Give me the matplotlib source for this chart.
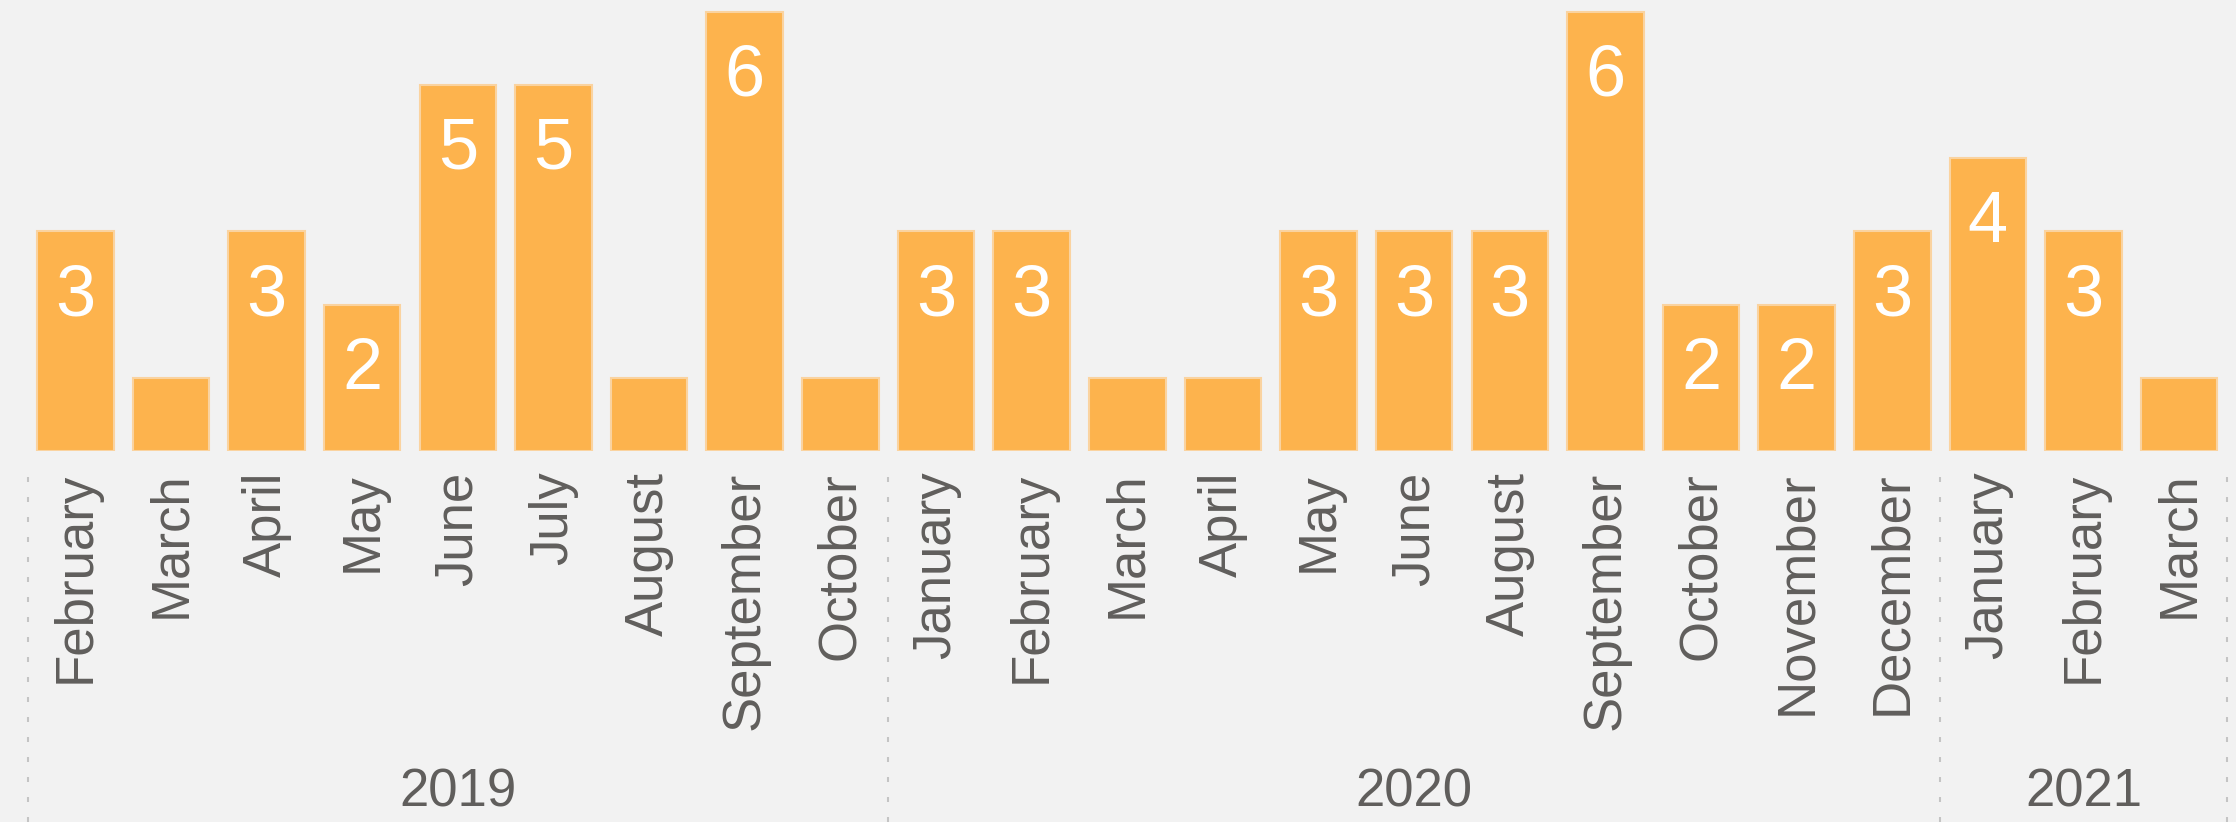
import matplotlib.pyplot as plt
from matplotlib.lines import Line2D
from matplotlib.transforms import blended_transform_factory

# data
months = ['February', 'March', 'April', 'May', 'June', 'July', 'August', 'September', 'October',
          'January', 'February', 'March', 'April', 'May', 'June', 'August', 'September',
          'October', 'November', 'December',
          'January', 'February', 'March']
counts = [3, 1, 3, 2, 5, 5, 1, 6, 1,
          3, 3, 1, 1, 3, 3, 3, 6, 2, 2, 3,
          4, 3, 1]
years = ['2019', '2020', '2021']
months_per_year = [9, 11, 3]

bg = '#f2f2f2'
bar_color = '#fdb34d'
text_color = '#605e5c'
plt.rcParams['font.family'] = ['Liberation Sans', 'DejaVu Sans']

W, H = 2236, 822
fig = plt.figure(figsize=(W / 100, H / 100), dpi=100, facecolor=bg)
left_px, right_px, base_px = 27.5, 2227, 451
ax = fig.add_axes([left_px / W, 1 - base_px / H, (right_px - left_px) / W, base_px / H])
ax.set_facecolor(bg)

x = list(range(len(counts)))
bars = ax.bar(x, counts, width=0.8, color=bar_color, edgecolor='#fad3a0', linewidth=1.5)
ax.set_xlim(-0.5, len(counts) - 0.5)
ax.set_ylim(0, 6.16)

# value labels inside the bars (not shown for 1)
for xi, v in zip(x, counts):
    if v > 1:
        ax.annotate(str(v), (xi, v), xytext=(0, -60.5), textcoords='offset points',
                    ha='center', va='baseline', fontsize=52, color='white')

ax.set_xticks(x)
ax.set_xticklabels(months, rotation=90, fontsize=38, color=text_color)
ax.tick_params(axis='x', length=0, pad=15)
ax.set_yticks([])
for s in ax.spines.values():
    s.set_visible(False)

# year group labels and dotted separators
trans = blended_transform_factory(ax.transData, fig.transFigure)
edges = [-0.5]
for n in months_per_year:
    edges.append(edges[-1] + n)
for i, yr in enumerate(years):
    fig.text((edges[i] + edges[i + 1]) / 2, 1 - 792 / H, yr, transform=trans,
             fontsize=38, color=text_color, ha='center', va='center')
for e in edges:
    fig.add_artist(Line2D([e, e], [0, 1 - 462 / H], transform=trans, color='#c4c4c4',
                          linewidth=1.5, linestyle=(0, (2.4, 7.2))))

fig.savefig('out.png', dpi=100, facecolor=bg)
